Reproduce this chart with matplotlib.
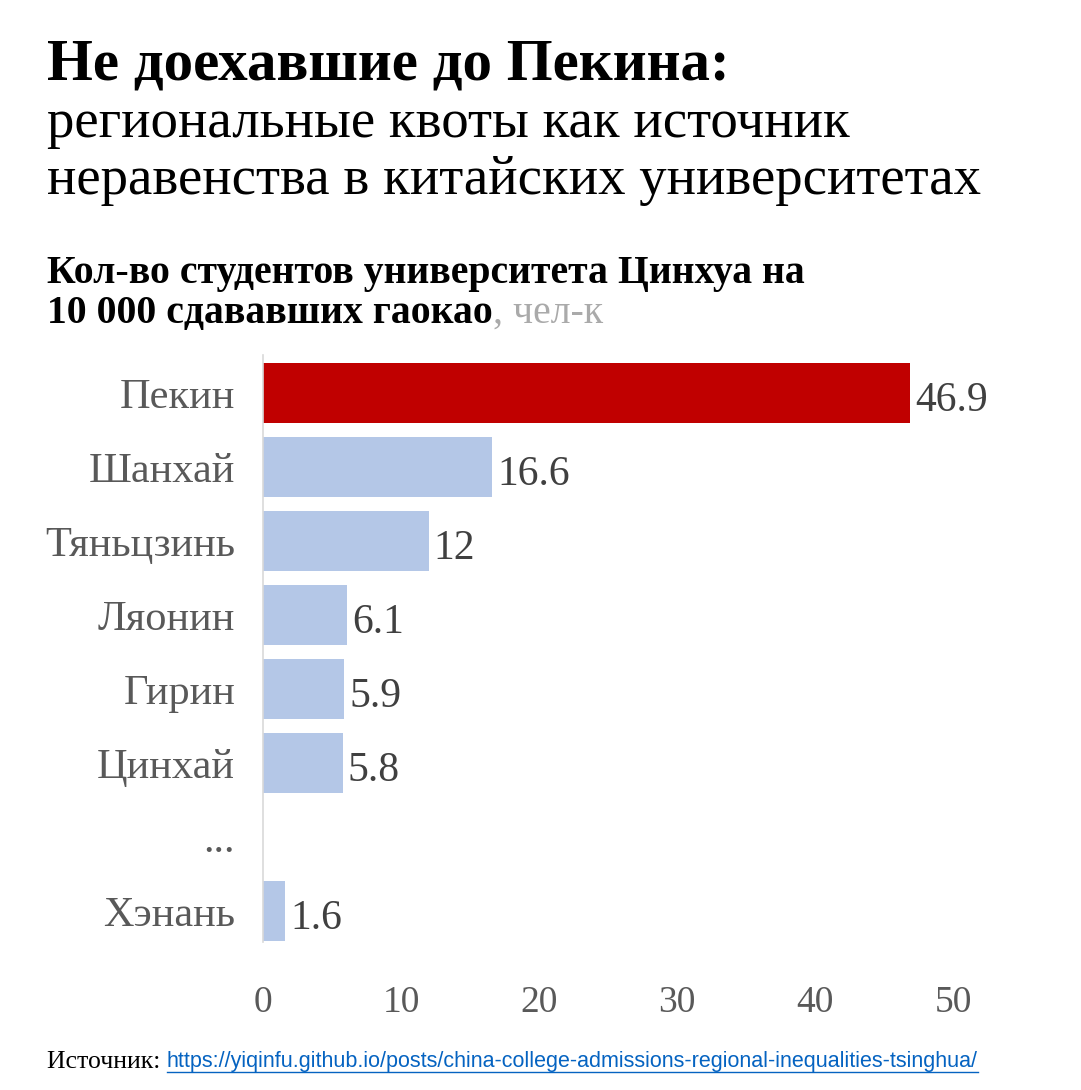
import matplotlib
matplotlib.use("Agg")
import matplotlib.pyplot as plt
import numpy as np

# data
regions = ["Пекин", "Шанхай", "Тяньцзинь", "Ляонин", "Гирин", "Цинхай", "...", "Хэнань"]
values = [46.9, 16.6, 12, 6.1, 5.9, 5.8, np.nan, 1.6]
value_labels = ["46.9", "16.6", "12", "6.1", "5.9", "5.8", "", "1.6"]
xticks = [0, 10, 20, 30, 40, 50]

RED = "#C00000"
BLUE = "#B4C7E7"
SERIF = "Liberation Serif"

W, H = 1081, 1090
fig = plt.figure(figsize=(W / 100, H / 100), dpi=100)


def fy(py):
    return 1 - py / H


# title block
fig.text(47 / W, fy(66), "Не доехавшие до Пекина:", family=SERIF, weight="bold",
         fontsize=42.5, va="center", ha="left")
fig.text(47 / W, fy(124), "региональные квоты как источник", family=SERIF,
         fontsize=39.5, va="center", ha="left")
fig.text(47 / W, fy(181), "неравенства в китайских университетах", family=SERIF,
         fontsize=39.5, va="center", ha="left")

fig.text(47 / W, fy(273), "Кол-во студентов университета Цинхуа на", family=SERIF,
         weight="bold", fontsize=28.6, va="center", ha="left")
t_bold = fig.text(47 / W, fy(313), "10 000 сдававших гаокао", family=SERIF,
                  weight="bold", fontsize=28.6, va="center", ha="left")

# axes
ax_left, ax_right = 263, 953
ax_top, ax_bot = 355, 942
ax = fig.add_axes([ax_left / W, fy(ax_bot), (ax_right - ax_left) / W, (ax_bot - ax_top) / H])
y = np.arange(len(regions))
colors = [RED] + [BLUE] * (len(regions) - 1)
ax.barh(y, values, height=0.8, color=colors)
ax.set_ylim(7.42, -0.514)
ax.set_xlim(0, 50)
for yi, v, lab in zip(y, values, value_labels):
    if lab:
        ax.text(v + 0.35, yi + 0.1, lab, family=SERIF, fontsize=30, color="#404040",
                va="center", ha="left")
ax.set_yticks(y)
ax.set_yticklabels(regions, family=SERIF, fontsize=30.5, color="#595959")
ax.set_xticks(xticks)
ax.set_xticklabels([str(t) for t in xticks], family=SERIF, fontsize=27, color="#595959")
ax.tick_params(axis="y", length=0, pad=20)
ax.tick_params(axis="x", length=0, pad=31)
for s in ["top", "right", "bottom"]:
    ax.spines[s].set_visible(False)
ax.spines["left"].set_color("#d9d9d9")
ax.spines["left"].set_linewidth(1.2)

# source line
src = fig.text(47 / W, fy(1062), "Источник: ", family=SERIF, fontsize=18.5,
               va="center", ha="left")

fig.canvas.draw()
r = fig.canvas.get_renderer()
bb = t_bold.get_window_extent(r)
fig.text(bb.x1 / W, fy(313), ", чел-к", family=SERIF, fontsize=28.6, color="#aaaaaa",
         va="center", ha="left")
bb2 = src.get_window_extent(r)
link = fig.text(bb2.x1 / W, fy(1062),
                "https://yiqinfu.github.io/posts/china-college-admissions-regional-inequalities-tsinghua/",
                family="Liberation Sans", fontsize=15.5, color="#0563C1", va="center", ha="left")
fig.canvas.draw()
lb = link.get_window_extent(r)
fig.add_artist(plt.Line2D([lb.x0 / W, lb.x1 / W], [(lb.y0 + 1) / H, (lb.y0 + 1) / H],
                          color="#0563C1", lw=1, transform=fig.transFigure))

fig.savefig("out.png", dpi=100)
